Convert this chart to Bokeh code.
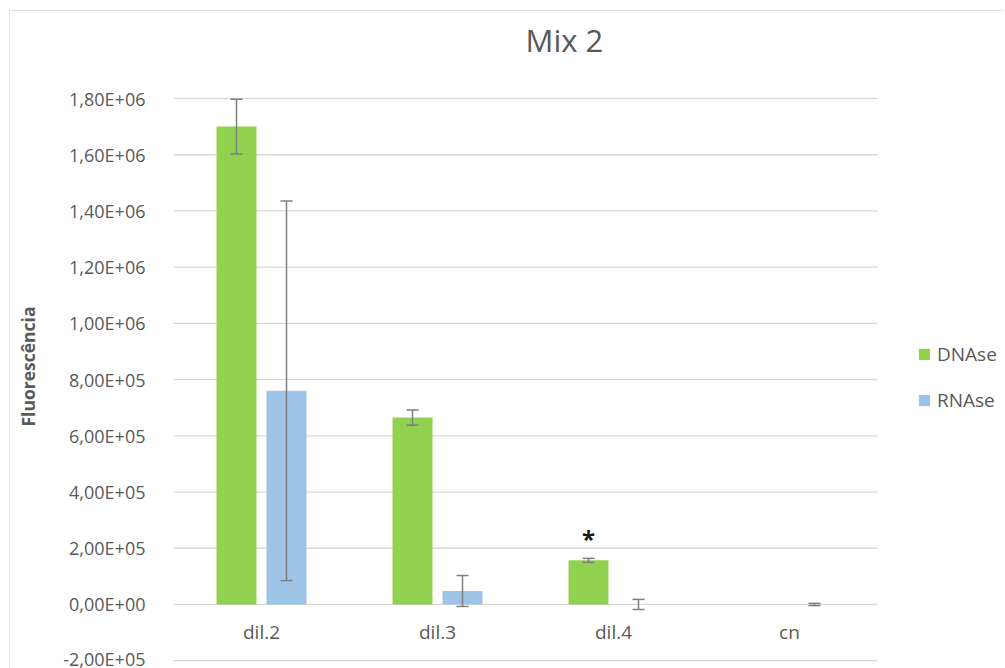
from bokeh.plotting import figure
from bokeh.models import (ColumnDataSource, FixedTicker, Whisker, TeeHead,
                          Legend, LegendItem, Title, Range1d)
from bokeh.transform import dodge
from bokeh.core.properties import value
from bokeh.embed import file_html
from bokeh.resources import INLINE

# Mean fluorescence per dilution and treatment, with their error bars
categories = ["dil.2", "dil.3", "dil.4", "cn"]
dnase = [1.70e6, 6.65e5, 1.57e5, 0.0]
dnase_err = [9.7e4, 2.7e4, 7.0e3, 0.0]
rnase = [7.60e5, 4.8e4, 0.0, 0.0]
rnase_err = [6.75e5, 5.5e4, 1.8e4, 4.0e3]
dnase_marks = ["", "", "*", ""]

y_ticks = [-2e5, 0, 2e5, 4e5, 6e5, 8e5, 1.0e6, 1.2e6, 1.4e6, 1.6e6, 1.8e6]
y_tick_labels = ["-2,00E+05", "0,00E+00", "2,00E+05", "4,00E+05", "6,00E+05",
                 "8,00E+05", "1,00E+06", "1,20E+06", "1,40E+06", "1,60E+06",
                 "1,80E+06"]

GREEN = "#92D050"
BLUE = "#9DC3E6"
TEXT = "#595959"
GRID = "#d9d9d9"
ERR = "#7f7f7f"
FONT = "Open Sans"

# categories sit at 0, 1, 2, ... on the x scale
pos = list(range(len(categories)))
src = ColumnDataSource(dict(
    x=pos, cat=categories, dnase=dnase, rnase=rnase,
    d_up=[v + e for v, e in zip(dnase, dnase_err)],
    mark=dnase_marks,
))

OFF = 0.142
BAR_W = 0.227
LEGEND_ROOM = 0.7216  # extra x room on the right that holds the legend

p = figure(x_range=Range1d(-0.5, len(categories) - 0.5 + LEGEND_ROOM),
           y_range=Range1d(-2.278e5, 1.921e6),
           width=995, height=660, output_backend="svg", toolbar_location=None,
           x_axis_location=None, title=None,
           min_border_left=164, min_border_right=0,
           min_border_top=54, min_border_bottom=2)
p.margin = (10, 0, 0, 9)
p.styles = {"outline": "1px solid #d9d9d9", "outline-offset": "-1px"}
p.outline_line_color = None
p.background_fill_color = "white"
p.border_fill_color = "white"

title = Title(text="Mix 2", align="left", offset=352, vertical_align="bottom",
              text_font=FONT, text_font_size="31px",
              text_font_style="normal", text_color=TEXT, standoff=8)
p.add_layout(title, "above")

# horizontal gridlines across the category area only
p.xgrid.grid_line_color = None
p.ygrid.grid_line_color = None
p.segment(x0=-0.5, x1=len(categories) - 0.5, y0=y_ticks, y1=y_ticks,
          line_color=GRID, line_width=1.3)

# value axis
p.yaxis.ticker = FixedTicker(ticks=y_ticks)
p.yaxis.major_label_overrides = {t: s for t, s in zip(y_ticks, y_tick_labels)}
p.yaxis.axis_line_color = None
p.yaxis.major_tick_line_color = None
p.yaxis.minor_tick_line_color = None
p.yaxis.major_label_text_font = FONT
p.yaxis.major_label_text_font_size = "18px"
p.yaxis.major_label_text_color = TEXT
p.yaxis.major_label_standoff = 22
p.yaxis.axis_label = "Fluorescência"
p.yaxis.axis_label_text_font = FONT
p.yaxis.axis_label_text_font_size = "17.5px"
p.yaxis.axis_label_text_font_style = "bold"
p.yaxis.axis_label_text_color = TEXT
p.yaxis.axis_label_standoff = 20

# bars
r_d = p.vbar(x=dodge("x", -OFF), top="dnase", width=BAR_W,
             source=src, fill_color=GREEN, line_color=None)
r_r = p.vbar(x=dodge("x", OFF), top="rnase", width=BAR_W,
             source=src, fill_color=BLUE, line_color=None)

# error bars (only where an error is defined), drawn over the bars
def err_source(vals, errs):
    keep = [i for i, e in enumerate(errs) if e > 0]
    return ColumnDataSource(dict(
        x=[pos[i] for i in keep],
        up=[vals[i] + errs[i] for i in keep],
        lo=[vals[i] - errs[i] for i in keep],
    ))

for vals, errs, off in ((dnase, dnase_err, -OFF), (rnase, rnase_err, OFF)):
    w = Whisker(source=err_source(vals, errs), level="overlay",
                base=dodge("x", off), upper="up", lower="lo",
                line_color=ERR, line_width=1.5,
                upper_head=TeeHead(size=12, line_color=ERR, line_width=1.5),
                lower_head=TeeHead(size=12, line_color=ERR, line_width=1.5))
    p.add_layout(w)

# significance mark above the DNAse bar
p.text(x=dodge("x", -OFF), y="d_up", text="mark", source=src,
       text_font=value(FONT), text_font_size="24px", text_font_style="bold",
       text_color="#1a1a1a", text_align="center", text_baseline="middle",
       y_offset=-20)

# category labels sitting under the zero line
p.text(x="x", y=0, text="cat", source=src, text_font=value(FONT),
       text_font_size="19px", text_color=TEXT, text_align="center",
       text_baseline="middle", y_offset=28)

legend = Legend(items=[LegendItem(label="DNAse", renderers=[r_d]),
                       LegendItem(label="RNAse", renderers=[r_r])],
                location=(744, 255), orientation="vertical",
                background_fill_alpha=0, border_line_color=None,
                padding=0, margin=0, spacing=20,
                glyph_width=14, glyph_height=14, label_height=20,
                label_standoff=6, label_text_font=FONT,
                label_text_font_size="19px", label_text_color=TEXT)
p.add_layout(legend)

open("out.html", "w").write(file_html(p, INLINE))
